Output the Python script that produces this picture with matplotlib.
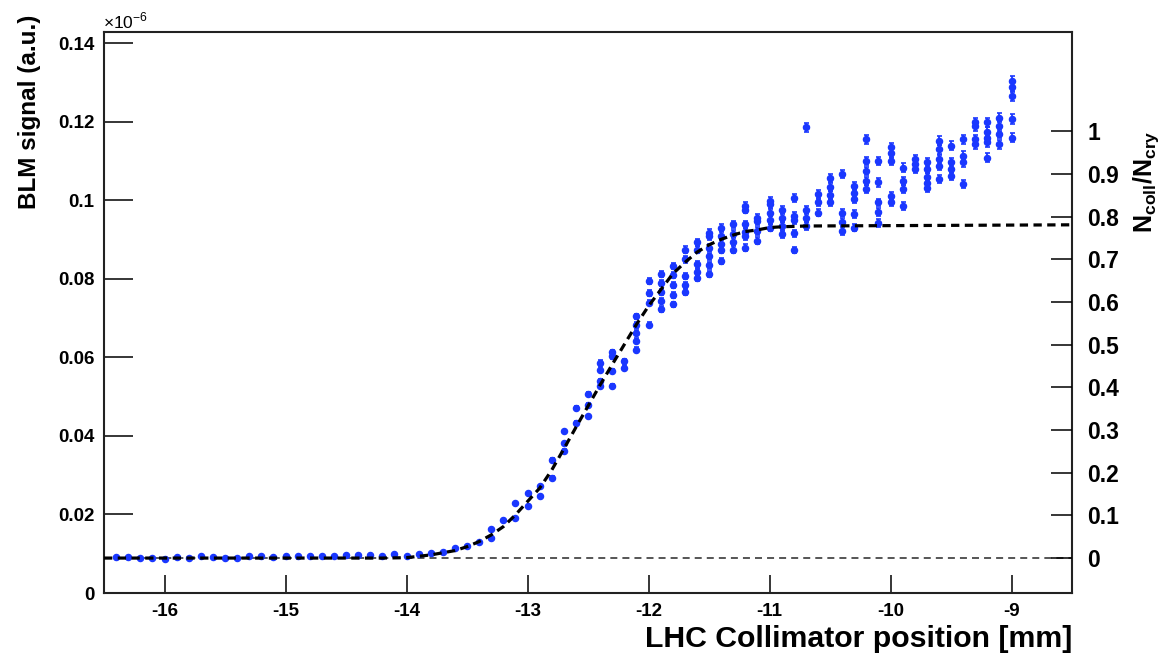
import matplotlib
matplotlib.use("Agg")
import matplotlib.pyplot as plt
import numpy as np

plt.rcParams['font.family'] = ['Liberation Sans', 'DejaVu Sans']
plt.rcParams['axes.unicode_minus'] = False
plt.rcParams['mathtext.fontset'] = 'custom'
plt.rcParams['mathtext.rm'] = 'Liberation Sans'
plt.rcParams['mathtext.bf'] = 'Liberation Sans:bold'

# collimator positions (mm), one entry per scan step
group_pos = [
    -16.4, -16.3, -16.2, -16.1, -16.0, -15.9, -15.8, -15.7, -15.6, -15.5,
    -15.4, -15.3, -15.2, -15.1, -15.0, -14.9, -14.8, -14.7, -14.6, -14.5,
    -14.4, -14.3, -14.2, -14.1, -14.0, -13.9, -13.8, -13.7, -13.6, -13.5,
    -13.4, -13.3, -13.2, -13.1, -13.0, -12.9, -12.8, -12.7, -12.6, -12.5,
    -12.4, -12.3, -12.2, -12.1, -12.0, -11.9, -11.8, -11.7, -11.6, -11.5,
    -11.4, -11.3, -11.2, -11.1, -11.0, -10.9, -10.8, -10.7, -10.6, -10.5,
    -10.4, -10.3, -10.2, -10.1, -10.0, -9.9, -9.8, -9.7, -9.6, -9.5,
    -9.4, -9.3, -9.2, -9.1, -9.0,
]

# BLM signal readings (x1e-6 a.u.) at each position
signal_groups = [
    [0.0091], [0.0091], [0.0090], [0.0088], [0.0086], [0.0091], [0.0090], [0.0095], [0.0091], [0.0088],
    [0.0090], [0.0093], [0.0094], [0.0091], [0.0094], [0.0093], [0.0094], [0.0093], [0.0095], [0.0097],
    [0.0097], [0.0096], [0.0093], [0.0099], [0.0093], [0.0100], [0.0102], [0.0104], [0.0114], [0.0119],
    [0.0130], [0.0164, 0.0140], [0.0187], [0.0229, 0.0191], [0.0255, 0.0221],
    [0.0272, 0.0246], [0.0340, 0.0294], [0.0412, 0.0382, 0.0363], [0.0472, 0.0433],
    [0.0506, 0.0480, 0.0450],
    [0.0587, 0.0569, 0.0539, 0.0527],
    [0.0613, 0.0603, 0.0565, 0.0527],
    [0.0590, 0.0573],
    [0.0705, 0.0683, 0.0663, 0.0643, 0.0620],
    [0.0795, 0.0765, 0.0740, 0.0684],
    [0.0812, 0.0790, 0.0768, 0.0745, 0.0723],
    [0.0833, 0.0810, 0.0785, 0.0760, 0.0735],
    [0.0875, 0.0850, 0.0807, 0.0785, 0.0766],
    [0.0893, 0.0875, 0.0837, 0.0818, 0.0803],
    [0.0918, 0.0909, 0.0880, 0.0858, 0.0835, 0.0812],
    [0.0931, 0.0910, 0.0890, 0.0875, 0.0846],
    [0.0939, 0.0915, 0.0895, 0.0875],
    [0.0986, 0.0977, 0.0939, 0.0920, 0.0909, 0.0880],
    [0.0956, 0.0948, 0.0922, 0.0897],
    [0.0999, 0.0990, 0.0969, 0.0950, 0.0931],
    [0.0977, 0.0955, 0.0935, 0.0914],
    [0.1007, 0.0960, 0.0950, 0.0916, 0.0874],
    [0.1186, 0.0977, 0.0955, 0.0935],
    [0.1016, 0.0995, 0.0969],
    [0.1058, 0.1035, 0.1015, 0.0995],
    [0.1067, 0.0969, 0.0945, 0.0922],
    [0.1037, 0.1020, 0.1003, 0.0965, 0.0931],
    [0.1156, 0.1101, 0.1075, 0.1050, 0.1029],
    [0.1101, 0.1046, 0.0995, 0.0970, 0.0943],
    [0.1135, 0.1120, 0.1101, 0.1012, 0.0995],
    [0.1084, 0.1050, 0.1029, 0.0986],
    [0.1105, 0.1093, 0.1080],
    [0.1097, 0.1080, 0.1060, 0.1045, 0.1033],
    [0.1152, 0.1130, 0.1105, 0.1088, 0.1054],
    [0.1139, 0.1097, 0.1080, 0.1063],
    [0.1156, 0.1114, 0.1097, 0.1041],
    [0.1199, 0.1190, 0.1156, 0.1143],
    [0.1199, 0.1175, 0.1160, 0.1148, 0.1109],
    [0.1211, 0.1190, 0.1170, 0.1143],
    [0.1305, 0.1290, 0.1267, 0.1207, 0.1160],
]
rel_err = 0.01

# fitted curve
fit_pos = [-16.5, -14.2, -14.0, -13.8, -13.6, -13.5, -13.4, -13.3, -13.2, -13.1,
           -13.0, -12.9, -12.8, -12.7, -12.6, -12.5, -12.4, -12.3, -12.2, -12.1,
           -12.0, -11.9, -11.8, -11.7, -11.6, -11.5, -11.4, -11.3, -11.2, -11.1,
           -11.0, -10.9, -10.7, -8.5]
fit_sig = [0.0089, 0.0089, 0.0090, 0.0097, 0.0108, 0.0118, 0.0131, 0.0148, 0.0169, 0.0199,
           0.0233, 0.0267, 0.0313, 0.0367, 0.0422, 0.0476, 0.0530, 0.0582, 0.0633, 0.0684,
           0.0731, 0.0772, 0.0813, 0.0842, 0.0868, 0.0887, 0.0901, 0.0912, 0.0921, 0.0925,
           0.0931, 0.0933, 0.0935, 0.0938]

ratio_zero = 0.0089   # BLM signal where N_coll/N_cry = 0
ratio_one = 0.1176    # BLM signal where N_coll/N_cry = 1

x_ticks = [-16, -15, -14, -13, -12, -11, -10, -9]
y_ticks = [0, 0.02, 0.04, 0.06, 0.08, 0.1, 0.12, 0.14]
ratio_ticks = [0, 0.1, 0.2, 0.3, 0.4, 0.5, 0.6, 0.7, 0.8, 0.9, 1]

pos = np.concatenate([[p] * len(g) for p, g in zip(group_pos, signal_groups)])
sig = np.concatenate([np.array(g) for g in signal_groups])

fig = plt.figure(figsize=(11.74, 6.55), dpi=100)
ax = fig.add_axes([104 / 1174, 1 - 593 / 655, 968 / 1174, (593 - 31.7) / 655])

ax.axhline(ratio_zero, color='#555555', lw=1.4, ls=(0, (3.6, 2.6)), zorder=2)
ax.errorbar(pos, sig, yerr=rel_err * sig, fmt='o', ms=4.4, color='#1a37ff',
            ecolor='#1a37ff', elinewidth=1.3, capsize=1.8, capthick=1.2, zorder=3)
ax.plot(fit_pos, fit_sig, color='black', lw=2.3, ls=(0, (2.6, 1.7)), zorder=4)

ax.set_xlim(-16.5, -8.5)
ax.set_ylim(0, 0.143)
ax.set_xticks(x_ticks)
ax.set_xticklabels([f"{t:d}" for t in x_ticks])
ax.set_yticks(y_ticks)
ax.set_yticklabels([f"{t:g}" for t in y_ticks])
ax.tick_params(axis='y', direction='in', length=21, width=1.1, pad=7,
               labelsize=13.5, right=False)
ax.tick_params(axis='x', direction='in', length=13, width=1.1, pad=7,
               labelsize=13.5, top=False)
for lab in ax.get_xticklabels() + ax.get_yticklabels():
    lab.set_fontweight('bold')
for s in ax.spines.values():
    s.set_linewidth(1.5)
    s.set_color('#222222')

ax.set_xlabel("LHC Collimator position [mm]", fontsize=21.8, fontweight='bold',
              loc='right', labelpad=4)
fig.text(30 / 1174, 1 - 15 / 655, "BLM signal (a.u.)", rotation=90, fontsize=17.5,
         fontweight='bold', ha='center', va='top')
fig.text(103 / 1174, 1 - 28 / 655, r"$\times$10$^{-6}$", fontsize=12.5,
         ha='left', va='baseline')

# right-hand scale for N_coll/N_cry
rax = ax.twinx()
lo, hi = ax.get_ylim()
span = ratio_one - ratio_zero
rax.set_ylim((lo - ratio_zero) / span, (hi - ratio_zero) / span)
rax.set_yticks(ratio_ticks)
rax.set_yticklabels([f"{t:g}" for t in ratio_ticks])
rax.tick_params(axis='y', direction='in', length=15, width=1.1, pad=11, labelsize=16.5)
for lab in rax.get_yticklabels():
    lab.set_fontweight('bold')
for s in rax.spines.values():
    s.set_visible(False)
fig.text(1146 / 1174, 1 - 130 / 655, r"$\mathbf{N_{coll}/N_{cry}}$", rotation=90,
         fontsize=18, ha='center', va='top')

fig.savefig("out.png", dpi=100)
